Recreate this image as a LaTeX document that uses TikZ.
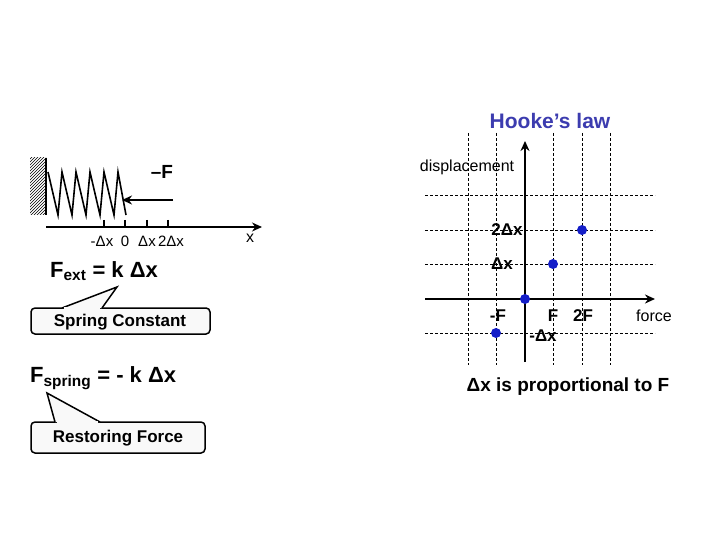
\documentclass[tikz,border=0pt]{standalone}
\usepackage{fontspec}
\setmainfont{Liberation Sans}
\usetikzlibrary{patterns,arrows.meta}
\definecolor{hk}{RGB}{60,60,175}
\definecolor{dt}{RGB}{20,30,200}
\begin{document}
\begin{tikzpicture}[x=1pt,y=-1pt,
  lbl/.style={inner sep=0pt,font=\fontsize{17}{19}\selectfont\bfseries},
  nrm/.style={inner sep=0pt,font=\fontsize{16}{18}\selectfont},
  eq/.style={inner sep=0pt,anchor=west,font=\fontsize{22}{24}\selectfont\bfseries},
  grid/.style={dashed,line width=0.7pt,dash pattern=on 3pt off 2pt},
  dot/.style={circle,fill=dt,inner sep=0pt,minimum size=10pt},
  callout/.style={draw,line width=1.5pt,fill=gray!5,rounded corners=4pt},
  ax/.style={line width=1.8pt,-{Stealth[length=10pt,width=9pt]}}]
\useasboundingbox (0,0) rectangle (720,540);
% ---- spring ----
\fill[pattern=north east lines] (30,158) rectangle (46,215);
\draw[line width=1.5pt] (46,158) -- (46,215);
\draw[line width=1.6pt] (48,172) -- (58,215) -- (62,172) -- (72,215) -- (76,172) -- (86,215) -- (90,172) -- (100,215) -- (104,172) -- (114,215) -- (118,172) -- (126,215);
\coordinate (fs) at (173,200); \coordinate (fe) at (122,200);
\draw[ax] (fs) -- (fe);
\node[lbl,font=\fontsize{19}{21}\selectfont\bfseries] (mf) at (162,172) {–F};
\coordinate (a0) at (46,227); \coordinate (a1) at (262,227);
\draw[ax,line width=1.2pt] (a0) -- (a1);
\foreach \p in {104,125,147,168}{\draw[line width=1.2pt] (\p,220) -- (\p,227);}
\node[nrm,font=\fontsize{15}{17}\selectfont] (t1) at (102,241) {-Δx};
\node[nrm,font=\fontsize{15}{17}\selectfont] (t2) at (125,241) {0};
\node[nrm,font=\fontsize{15}{17}\selectfont] (t3) at (147,241) {Δx};
\node[nrm,font=\fontsize{15}{17}\selectfont] (t4) at (171,241) {2Δx};
\node[nrm] (xl) at (250,238) {x};
% ---- equations ----
\node[eq] (fext) at (50,271) {F\textsubscript{ext} = k Δx};
\node[eq] (fsp) at (30,378) {F\textsubscript{spring} = - k Δx};
\draw[callout] (31,308) rectangle (210,334);
\draw[line width=1.5pt,fill=gray!5] (62,308) -- (117,287) -- (102,308);
\draw[gray!5,line width=1.2pt] (64,308) -- (100,308);
\node[lbl] (sc) at (120,322) {Spring Constant};
\draw[callout] (31,422) rectangle (205,453);
\draw[line width=1.5pt,fill=gray!5] (55,422) -- (47,393) -- (100,422);
\draw[gray!5,line width=1.2pt] (57,422) -- (98,422);
\node[lbl] (rf) at (118,438) {Restoring Force};
% ---- graph ----
\node[lbl,font=\fontsize{21}{23}\selectfont\bfseries,text=hk] (hl) at (550,121) {Hooke’s law};
\foreach \xx in {468,496,553,582,610}{\draw[grid] (\xx,133) -- (\xx,365);}
\foreach \yy in {195,230,264,333}{\draw[grid] (425,\yy) -- (655,\yy);}
\coordinate (h0) at (425,299); \coordinate (h1) at (655,299);
\coordinate (v0) at (525,362); \coordinate (v1) at (525,141);
\draw[ax] (h0) -- (h1);
\draw[ax] (v0) -- (v1);
\node[dot] (d0) at (525,299) {};
\node[dot] (d1) at (553,264) {};
\node[dot] (d2) at (582,230) {};
\node[dot] (d3) at (496,333) {};
\node[nrm] (disp) at (467,167) {displacement};
\node[lbl] (l2) at (507,230) {2Δx};
\node[lbl] (l1) at (502,264) {Δx};
\node[lbl] (lm) at (543,336) {-Δx};
\node[lbl] (fm) at (498,316) {-F};
\node[lbl] (fp) at (553,316) {F};
\node[lbl] (f2) at (583,316) {2F};
\node[nrm] (fo) at (654,316) {force};
\node[lbl,font=\fontsize{19}{21}\selectfont\bfseries] (prop) at (568,387) {Δx is proportional to F};
\end{tikzpicture}
\end{document}
